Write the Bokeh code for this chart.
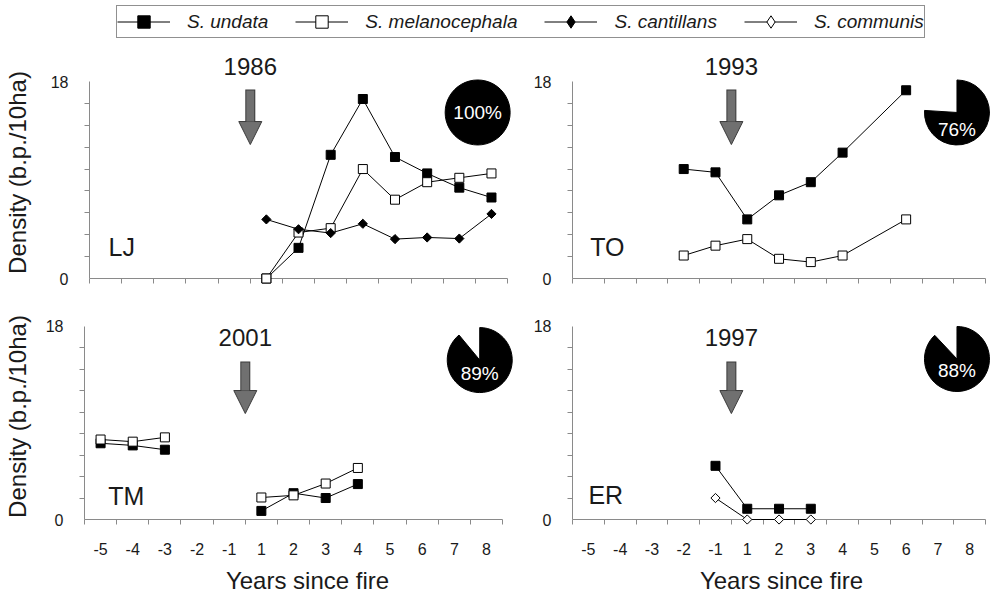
import math
from bokeh.plotting import figure
from bokeh.models import (Range1d, LinearAxis, FixedTicker, Label, Arrow, NormalHead,
                          Legend, LegendItem)
from bokeh.core.properties import value
from bokeh.layouts import column, row
from bokeh.embed import file_html
from bokeh.resources import INLINE

nan = float("nan")

# ---------------- data ----------------
years = ["-5", "-4", "-3", "-2", "-1", "1", "2", "3", "4", "5", "6", "7", "8"]
sites = ["LJ", "TO", "TM", "ER"]
fire_years = ["1986", "1993", "2001", "1997"]
burnt_pct = [100, 76, 89, 88]
species_labels = ["S. undata", "S. melanocephala", "S. cantillans", "S. communis"]

lj_years = ["1", "2", "3", "4", "5", "6", "7", "8"]
lj_undata = [0, 2.8, 11.3, 16.4, 11.1, 9.6, 8.3, 7.4]
lj_melano = [0, 4.2, 4.6, 10.0, 7.2, 8.8, 9.2, 9.6]
lj_cantil = [5.4, 4.5, 4.15, 5.0, 3.6, 3.75, 3.65, 5.9]

to_years = ["-2", "-1", "1", "2", "3", "4", "6"]
to_undata = [10.0, 9.7, 5.4, 7.6, 8.8, 11.5, 17.2]
to_melano = [2.1, 3.0, 3.6, 1.8, 1.5, 2.1, 5.4]

tm_years = ["-5", "-4", "-3", "-2", "-1", "1", "2", "3", "4"]
tm_undata = [7.1, 6.9, 6.5, nan, nan, 0.8, 2.45, 2.0, 3.3]
tm_melano = [7.45, 7.25, 7.65, nan, nan, 2.05, 2.25, 3.35, 4.8]

er_years = ["-1", "1", "2", "3"]
er_undata = [5.0, 1.0, 1.0, 1.0]
er_communis = [2.0, 0, 0, 0]

# ---------------- styling ----------------
FONT = "Liberation Sans"
AXIS_GREY = "#8a8a8a"
TEXT = "#1a1a1a"
STYLE = {
    "S. undata": dict(marker="square", size=9, fill_color="black", angle=0, legend_marker="square"),
    "S. melanocephala": dict(marker="square", size=9, fill_color="white", angle=0, legend_marker="square"),
    "S. cantillans": dict(marker="square", size=6.5, fill_color="black", angle=math.pi / 4,
                          legend_marker="diamond"),
    "S. communis": dict(marker="square", size=6.5, fill_color="white", angle=math.pi / 4,
                        legend_marker="diamond"),
}

pos = {lab: i + 1 for i, lab in enumerate(years)}
fire_x = pos["-1"] + 0.5  # boundary between -1 and 1

# annotation placement (data units) per panel
year_label_y = [19.33, 19.33, 16.95, 16.95]
arrow_top = [17.27, 17.27, 14.71, 14.71]
arrow_tip = [12.24, 12.24, 9.87, 9.87]
pie_x = [12.57, 12.6, 12.79, 12.6]
pie_y = [15.17, 15.17, 14.85, 14.95]
pie_label_dy = [0, -17, -13, -12]
site_label_x = [1.09, 1.06, 1.24, 1.0]
site_label_y = [2.92, 2.92, 2.2, 2.28]

panel_series = [
    (lj_years, [("S. undata", lj_undata), ("S. melanocephala", lj_melano), ("S. cantillans", lj_cantil)]),
    (to_years, [("S. undata", to_undata), ("S. melanocephala", to_melano)]),
    (tm_years, [("S. undata", tm_undata), ("S. melanocephala", tm_melano)]),
    (er_years, [("S. undata", er_undata), ("S. communis", er_communis)]),
]

PX_Y = 197 / 18.0     # pixels per density unit
PX_X = 419 / 13.0     # pixels per year cell

# panel geometry (pixels)
fig_w = [530, 460, 530, 460]
fig_h = [256, 256, 296, 296]
border_left = [88, 36, 83, 36]
border_top = [22, 22, 13, 13]
border_bottom = [22, 22, 73, 73]


def make_panel(i):
    is_top = i < 2
    is_left = i % 2 == 0
    frame_w = fig_w[i] - border_left[i]
    frame_h = fig_h[i] - border_top[i] - border_bottom[i]
    p = figure(width=fig_w[i], height=fig_h[i],
               x_range=Range1d(0.5, 0.5 + frame_w / PX_X), y_range=Range1d(0, frame_h / PX_Y),
               x_axis_type=None, y_axis_type=None,
               output_backend="svg", toolbar_location=None,
               min_border_left=border_left[i], min_border_right=0,
               min_border_top=border_top[i], min_border_bottom=border_bottom[i])
    p.outline_line_color = None
    p.background_fill_color = "white"
    p.border_fill_color = "white"

    yax = LinearAxis(ticker=FixedTicker(ticks=[0, 18], minor_ticks=list(range(2, 18, 2))),
                     bounds=(0, 18))
    yax.axis_line_color = AXIS_GREY
    yax.major_tick_out = 0
    yax.major_tick_in = 0
    yax.minor_tick_out = 5
    yax.minor_tick_in = 0
    yax.minor_tick_line_color = AXIS_GREY
    yax.major_label_standoff = 16
    yax.major_label_text_font = FONT
    yax.major_label_text_font_size = "16px"
    yax.major_label_text_color = TEXT
    if is_left:
        yax.axis_label = "Density (b.p./10ha)"
        yax.axis_label_text_font = FONT
        yax.axis_label_text_font_size = "24px"
        yax.axis_label_text_font_style = "normal"
        yax.axis_label_text_color = TEXT
        yax.axis_label_standoff = border_left[i] - 71
    p.add_layout(yax, "left")

    centers = [pos[y] for y in years]
    xax = LinearAxis(ticker=FixedTicker(ticks=[] if is_top else centers,
                                        minor_ticks=[c - 0.5 for c in centers] + [centers[-1] + 0.5]),
                     bounds=(0.5, 13.5))
    xax.axis_line_color = AXIS_GREY
    xax.major_tick_out = 0
    xax.major_tick_in = 0
    xax.minor_tick_out = 5
    xax.minor_tick_in = 0
    xax.minor_tick_line_color = AXIS_GREY
    if not is_top:
        xax.major_label_overrides = {pos[y]: y for y in years}
        xax.major_label_standoff = 18
        xax.major_label_text_font = FONT
        xax.major_label_text_font_size = "16px"
        xax.major_label_text_color = TEXT
        xax.axis_label = "Years since fire"
        xax.axis_label_text_font = FONT
        xax.axis_label_text_font_size = "24px"
        xax.axis_label_text_font_style = "normal"
        xax.axis_label_text_color = TEXT
        xax.axis_label_standoff = 9
    p.add_layout(xax, "below")

    # fire arrow
    head_len = 23 / PX_Y
    p.add_layout(Arrow(end=None, x_start=fire_x, y_start=arrow_top[i], x_end=fire_x,
                       y_end=arrow_tip[i] + head_len * 0.9, line_color="#3a3a3a", line_width=10,
                       level="overlay"))
    p.add_layout(Arrow(end=NormalHead(size=23, fill_color="#707070", line_color="#3a3a3a", line_width=1),
                       x_start=fire_x, y_start=arrow_top[i] - 1 / PX_Y, x_end=fire_x,
                       y_end=arrow_tip[i], line_color="#707070", line_width=8, level="overlay"))
    p.text(x=[fire_x], y=[year_label_y[i]], text=[fire_years[i]], text_align="center",
           text_baseline="middle", text_font=value(FONT), text_font_size=value("24px"),
           text_color=TEXT, level="overlay")
    p.add_layout(Label(x=site_label_x[i], y=site_label_y[i], text=sites[i], text_align="left",
                       text_baseline="middle", text_font=FONT, text_font_size="25px", text_color=TEXT,
                       level="overlay"))

    # series
    yrs, series = panel_series[i]
    xs = [pos[y] for y in yrs]
    for name, vals in series:
        st = STYLE[name]
        p.line(xs, vals, line_color="black", line_width=1, level="overlay")
        p.scatter(xs, vals, marker=st["marker"], size=st["size"], angle=st["angle"],
                  fill_color=st["fill_color"], line_color="black", line_width=1, level="overlay")

    # burnt-area pie
    f = burnt_pct[i] / 100.0
    start = math.pi / 2 + (1 - f) * 2 * math.pi
    end = start + f * 2 * math.pi * 0.99999
    p.wedge(x=[pie_x[i]], y=[pie_y[i]], radius=32.5, radius_units="screen",
            start_angle=start, end_angle=end, fill_color="black", line_color="black", level="overlay")
    p.add_layout(Label(x=pie_x[i], y=pie_y[i], y_offset=pie_label_dy[i], text=f"{burnt_pct[i]}%",
                       text_align="center", text_baseline="middle", text_font=FONT,
                       text_font_size="19px", text_color="white", level="overlay"))
    return p


panels = [make_panel(i) for i in range(4)]

# legend strip
lf = figure(width=990, height=44, x_range=Range1d(0, 1), y_range=Range1d(0, 1),
            x_axis_type=None, y_axis_type=None, output_backend="svg", toolbar_location=None,
            min_border=0)
lf.outline_line_color = None
items = []
for lab in species_labels:
    st = STYLE[lab]
    lr = lf.line(x=[nan], y=[nan], line_color="black", line_width=1)
    sr = lf.scatter(x=[nan], y=[nan], marker=st["legend_marker"],
                    fill_color=st["fill_color"], line_color="black", line_width=1)
    items.append(LegendItem(label=lab, renderers=[lr, sr]))
leg = Legend(items=items, orientation="horizontal", location=(116, 6),
             glyph_width=53, glyph_height=31, label_standoff=17, spacing=27,
             padding=0, margin=0, border_line_color="#222", border_line_width=1.2,
             label_text_font=FONT, label_text_font_style="italic", label_text_font_size="19px",
             label_text_color=TEXT, label_height=31)
lf.add_layout(leg)

layout = column(lf, row(panels[0], panels[1]), row(panels[2], panels[3]))
open("out.html", "w").write(file_html(layout, INLINE))
